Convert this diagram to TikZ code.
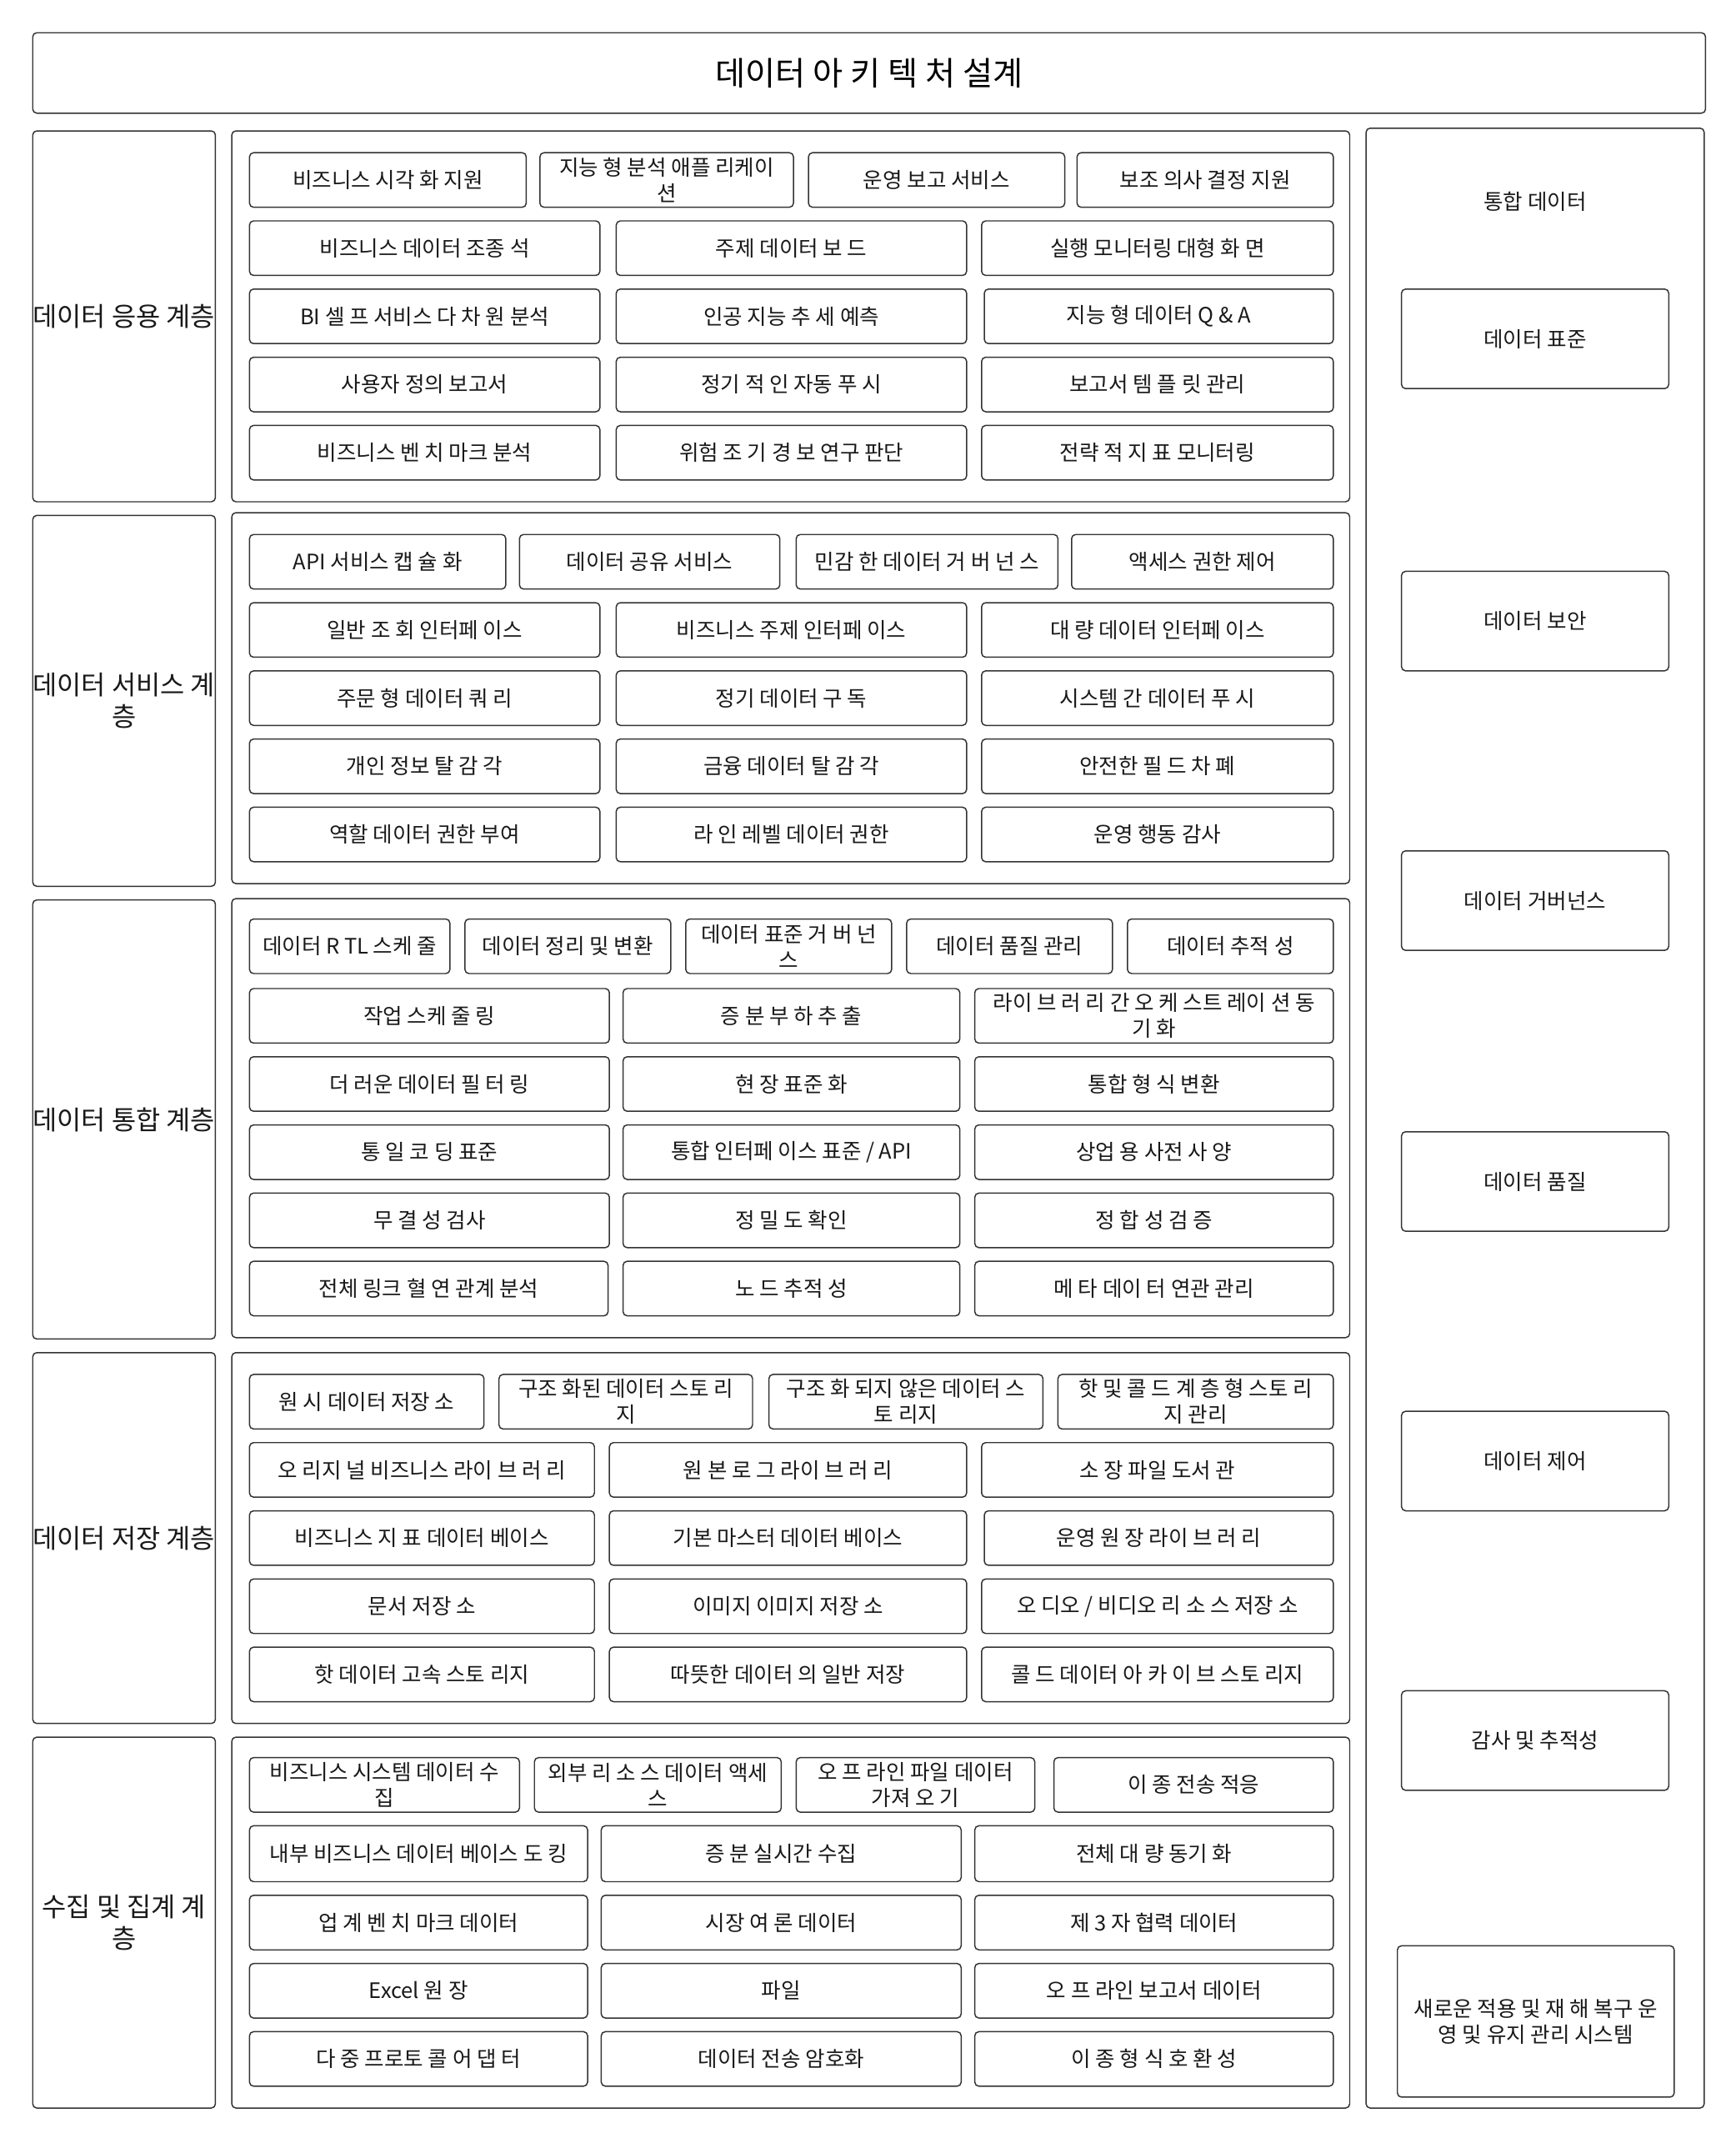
\documentclass[tikz,border=0pt]{standalone}
\usepackage{fontspec}
\setmainfont{Noto Sans CJK KR}
\usepackage{tikz}

\begin{document}
\begin{tikzpicture}[x=1pt, y=-1pt,
    frame/.style={draw=black!80, line width=0.9pt, rounded corners=3pt, inner sep=0pt, outer sep=0pt},
    cell/.style={frame, text=black!90, align=center, font={\fontsize{15.6}{19}\selectfont}},
    layertitle/.style={frame, text=black!90, align=center, font={\fontsize{19.4}{23}\selectfont}}]
  \def\cellbox#1#2#3#4#5#6{\node[cell, minimum width={#4-#2}, minimum height={#5-#3}] (#1) at ({(#2+#4)/2},{(#3+#5)/2}) {#6};}
  \def\panelbox#1#2#3#4#5{\node[frame, minimum width={#4-#2}, minimum height={#5-#3}] (#1) at ({(#2+#4)/2},{(#3+#5)/2}) {};}

  \useasboundingbox[fill=white] (0,0) rectangle (1273,1568);

  % Title
  \node[frame, minimum width=1227, minimum height=59, font={\fontsize{24}{28}\selectfont}] (title) at (637.5,53.5) {데이터 아 키 텍 처 설계};

  % Layer names
  \foreach \n/\ya/\yb/\txt in {app/96/368/{데이터 응용 계층}, svc/378/650/{데이터 서비스 계\\층},
      int/660/982/{데이터 통합 계층}, sto/992/1264/{데이터 저장 계층}, col/1274/1546/{수집 및 집계 계\\층}}
    \node[layertitle, minimum width=134, minimum height={\yb-\ya}] (lab-\n) at (91,{(\ya+\yb)/2}) {\txt};

  % Layer panels
  \panelbox{pan-app}{170}{96}{990}{368}
  \panelbox{pan-svc}{170}{376}{990}{648}
  \panelbox{pan-int}{170}{659}{990}{981}
  \panelbox{pan-sto}{170}{992}{990}{1264}
  \panelbox{pan-col}{170}{1274}{990}{1546}

  % Application layer
  \cellbox{app-1-1}{183}{112}{386}{152}{비즈니스 시각 화 지원}
  \cellbox{app-1-2}{396}{112}{582}{152}{지능 형 분석 애플 리케이\\션}
  \cellbox{app-1-3}{593}{112}{781}{152}{운영 보고 서비스}
  \cellbox{app-1-4}{790}{112}{978}{152}{보조 의사 결정 지원}
  \cellbox{app-2-1}{183}{162}{440}{202}{비즈니스 데이터 조종 석}
  \cellbox{app-2-2}{452}{162}{709}{202}{주제 데이터 보 드}
  \cellbox{app-2-3}{720}{162}{978}{202}{실행 모니터링 대형 화 면}
  \cellbox{app-3-1}{183}{212}{440}{252}{BI 셀 프 서비스 다 차 원 분석}
  \cellbox{app-3-2}{452}{212}{709}{252}{인공 지능 추 세 예측}
  \cellbox{app-3-3}{722}{212}{978}{252}{지능 형 데이터 Q \& A}
  \cellbox{app-4-1}{183}{262}{440}{302}{사용자 정의 보고서}
  \cellbox{app-4-2}{452}{262}{709}{302}{정기 적 인 자동 푸 시}
  \cellbox{app-4-3}{720}{262}{978}{302}{보고서 템 플 릿 관리}
  \cellbox{app-5-1}{183}{312}{440}{352}{비즈니스 벤 치 마크 분석}
  \cellbox{app-5-2}{452}{312}{709}{352}{위험 조 기 경 보 연구 판단}
  \cellbox{app-5-3}{720}{312}{978}{352}{전략 적 지 표 모니터링}

  % Service layer
  \cellbox{svc-1-1}{183}{392}{371}{432}{API 서비스 캡 슐 화}
  \cellbox{svc-1-2}{381}{392}{572}{432}{데이터 공유 서비스}
  \cellbox{svc-1-3}{584}{392}{776}{432}{민감 한 데이터 거 버 넌 스}
  \cellbox{svc-1-4}{786}{392}{978}{432}{액세스 권한 제어}
  \cellbox{svc-2-1}{183}{442}{440}{482}{일반 조 회 인터페 이스}
  \cellbox{svc-2-2}{452}{442}{709}{482}{비즈니스 주제 인터페 이스}
  \cellbox{svc-2-3}{720}{442}{978}{482}{대 량 데이터 인터페 이스}
  \cellbox{svc-3-1}{183}{492}{440}{532}{주문 형 데이터 쿼 리}
  \cellbox{svc-3-2}{452}{492}{709}{532}{정기 데이터 구 독}
  \cellbox{svc-3-3}{720}{492}{978}{532}{시스템 간 데이터 푸 시}
  \cellbox{svc-4-1}{183}{542}{440}{582}{개인 정보 탈 감 각}
  \cellbox{svc-4-2}{452}{542}{709}{582}{금융 데이터 탈 감 각}
  \cellbox{svc-4-3}{720}{542}{978}{582}{안전한 필 드 차 폐}
  \cellbox{svc-5-1}{183}{592}{440}{632}{역할 데이터 권한 부여}
  \cellbox{svc-5-2}{452}{592}{709}{632}{라 인 레벨 데이터 권한}
  \cellbox{svc-5-3}{720}{592}{978}{632}{운영 행동 감사}

  % Integration layer
  \cellbox{int-1-1}{183}{674}{330}{714}{데이터 R TL 스케 줄}
  \cellbox{int-1-2}{341}{674}{492}{714}{데이터 정리 및 변환}
  \cellbox{int-1-3}{503}{674}{654}{714}{데이터 표준 거 버 넌\\스}
  \cellbox{int-1-4}{665}{674}{816}{714}{데이터 품질 관리}
  \cellbox{int-1-5}{827}{674}{978}{714}{데이터 추적 성}
  \cellbox{int-2-1}{183}{725}{447}{765}{작업 스케 줄 링}
  \cellbox{int-2-2}{457}{725}{704}{765}{증 분 부 하 추 출}
  \cellbox{int-2-3}{715}{725}{978}{765}{라이 브 러 리 간 오 케 스트 레이 션 동\\기 화}
  \cellbox{int-3-1}{183}{775}{447}{815}{더 러운 데이터 필 터 링}
  \cellbox{int-3-2}{457}{775}{704}{815}{현 장 표준 화}
  \cellbox{int-3-3}{715}{775}{978}{815}{통합 형 식 변환}
  \cellbox{int-4-1}{183}{825}{447}{865}{통 일 코 딩 표준}
  \cellbox{int-4-2}{457}{825}{704}{865}{통합 인터페 이스 표준 / API}
  \cellbox{int-4-3}{715}{825}{978}{865}{상업 용 사전 사 양}
  \cellbox{int-5-1}{183}{875}{447}{915}{무 결 성 검사}
  \cellbox{int-5-2}{457}{875}{704}{915}{정 밀 도 확인}
  \cellbox{int-5-3}{715}{875}{978}{915}{정 합 성 검 증}
  \cellbox{int-6-1}{183}{925}{446}{965}{전체 링크 혈 연 관계 분석}
  \cellbox{int-6-2}{457}{925}{704}{965}{노 드 추적 성}
  \cellbox{int-6-3}{715}{925}{978}{965}{메 타 데이 터 연관 관리}

  % Storage layer
  \cellbox{sto-1-1}{183}{1008}{355}{1048}{원 시 데이터 저장 소}
  \cellbox{sto-1-2}{366}{1008}{552}{1048}{구조 화된 데이터 스토 리\\지}
  \cellbox{sto-1-3}{564}{1008}{765}{1048}{구조 화 되지 않은 데이터 스\\토 리지}
  \cellbox{sto-1-4}{776}{1008}{978}{1048}{핫 및 콜 드 계 층 형 스토 리\\지 관리}
  \cellbox{sto-2-1}{183}{1058}{436}{1098}{오 리지 널 비즈니스 라이 브 러 리}
  \cellbox{sto-2-2}{447}{1058}{709}{1098}{원 본 로 그 라이 브 러 리}
  \cellbox{sto-2-3}{720}{1058}{978}{1098}{소 장 파일 도서 관}
  \cellbox{sto-3-1}{183}{1108}{436}{1148}{비즈니스 지 표 데이터 베이스}
  \cellbox{sto-3-2}{447}{1108}{709}{1148}{기본 마스터 데이터 베이스}
  \cellbox{sto-3-3}{722}{1108}{978}{1148}{운영 원 장 라이 브 러 리}
  \cellbox{sto-4-1}{183}{1158}{436}{1198}{문서 저장 소}
  \cellbox{sto-4-2}{447}{1158}{709}{1198}{이미지 이미지 저장 소}
  \cellbox{sto-4-3}{720}{1158}{978}{1198}{오 디오 / 비디오 리 소 스 저장 소}
  \cellbox{sto-5-1}{183}{1208}{436}{1248}{핫 데이터 고속 스토 리지}
  \cellbox{sto-5-2}{447}{1208}{709}{1248}{따뜻한 데이터 의 일반 저장}
  \cellbox{sto-5-3}{720}{1208}{978}{1248}{콜 드 데이터 아 카 이 브 스토 리지}

  % Collection layer
  \cellbox{col-1-1}{183}{1289}{381}{1329}{비즈니스 시스템 데이터 수\\집}
  \cellbox{col-1-2}{392}{1289}{573}{1329}{외부 리 소 스 데이터 액세\\스}
  \cellbox{col-1-3}{584}{1289}{759}{1329}{오 프 라인 파일 데이터\\가져 오 기}
  \cellbox{col-1-4}{773}{1289}{978}{1329}{이 종 전송 적응}
  \cellbox{col-2-1}{183}{1339}{431}{1380}{내부 비즈니스 데이터 베이스 도 킹}
  \cellbox{col-2-2}{441}{1339}{705}{1380}{증 분 실시간 수집}
  \cellbox{col-2-3}{715}{1339}{978}{1380}{전체 대 량 동기 화}
  \cellbox{col-3-1}{183}{1390}{431}{1430}{업 계 벤 치 마크 데이터}
  \cellbox{col-3-2}{441}{1390}{705}{1430}{시장 여 론 데이터}
  \cellbox{col-3-3}{715}{1390}{978}{1430}{제 3 자 협력 데이터}
  \cellbox{col-4-1}{183}{1440}{431}{1480}{Excel 원 장}
  \cellbox{col-4-2}{441}{1440}{705}{1480}{파일}
  \cellbox{col-4-3}{715}{1440}{978}{1480}{오 프 라인 보고서 데이터}
  \cellbox{col-5-1}{183}{1490}{431}{1530}{다 중 프로토 콜 어 댑 터}
  \cellbox{col-5-2}{441}{1490}{705}{1530}{데이터 전송 암호화}
  \cellbox{col-5-3}{715}{1490}{978}{1530}{이 종 형 식 호 환 성}

  % Cross-cutting column
  \panelbox{side}{1002}{94}{1250}{1546}
  \node[text=black!90, font={\fontsize{15.6}{19}\selectfont}] (side-title) at (1126,148) {통합 데이터};
  \foreach \n/\ya/\txt in {std/212/{데이터 표준}, sec/419/{데이터 보안}, gov/624/{데이터 거버넌스},
      qual/830/{데이터 품질}, ctrl/1035/{데이터 제어}, audit/1240/{감사 및 추적성}}
    \node[cell, minimum width=196, minimum height=73] (\n) at (1126,{\ya+36.5}) {\txt};
  \cellbox{dr}{1025}{1427}{1228}{1538}{새로운 적용 및 재 해 복구 운\\영 및 유지 관리 시스템}
\end{tikzpicture}
\end{document}
